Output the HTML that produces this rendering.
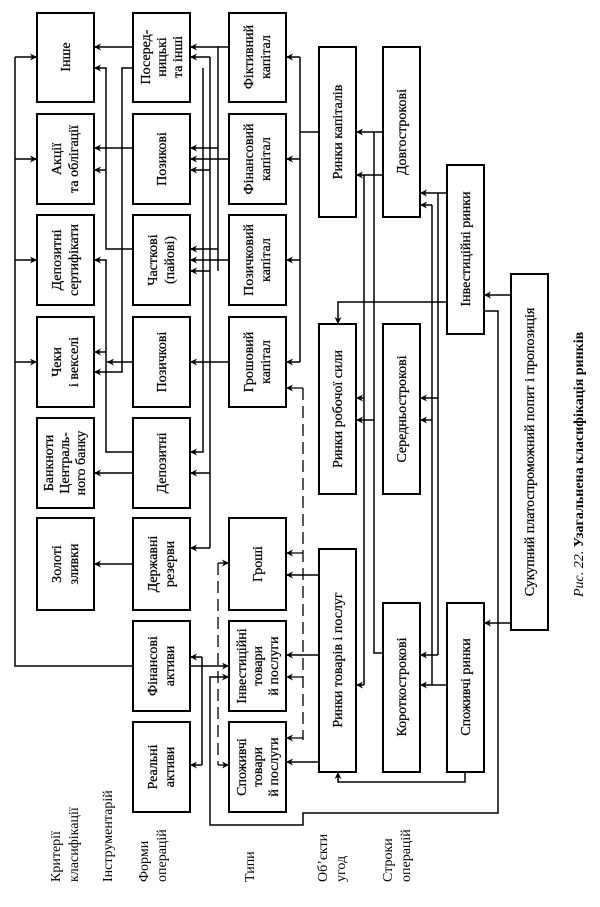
<!DOCTYPE html>
<html><head><meta charset="utf-8"><style>
html,body{margin:0;padding:0;background:#fff;}
svg{display:block;font-family:"Liberation Serif",serif;}
</style></head><body>
<svg width="600" height="907" viewBox="0 0 600 907" xmlns="http://www.w3.org/2000/svg">
<defs>
<marker id="a" viewBox="0 0 10 10" refX="10" refY="5" markerWidth="7" markerHeight="7" orient="auto" markerUnits="userSpaceOnUse"><path d="M0,0 L10,5 L0,10 L3,5 z" fill="#000"/></marker>
</defs>
<g fill="#fff" stroke="#000" stroke-width="2">
<rect x="37" y="13" width="57" height="89"/>
<rect x="37" y="114" width="57" height="90"/>
<rect x="37" y="215" width="57" height="90"/>
<rect x="37" y="317" width="57" height="90"/>
<rect x="37" y="418" width="57" height="90"/>
<rect x="37" y="518" width="57" height="92"/>
<rect x="133" y="13" width="57" height="89"/>
<rect x="133" y="114" width="57" height="90"/>
<rect x="133" y="215" width="57" height="90"/>
<rect x="133" y="317" width="57" height="90"/>
<rect x="133" y="418" width="57" height="90"/>
<rect x="133" y="518" width="57" height="92"/>
<rect x="133" y="621" width="57" height="90"/>
<rect x="133" y="722" width="57" height="90"/>
<rect x="229" y="13" width="57" height="89"/>
<rect x="229" y="114" width="57" height="90"/>
<rect x="229" y="215" width="57" height="90"/>
<rect x="229" y="317" width="57" height="90"/>
<rect x="229" y="518" width="57" height="92"/>
<rect x="229" y="621" width="57" height="90"/>
<rect x="229" y="722" width="57" height="90"/>
<rect x="319" y="47" width="37" height="170"/>
<rect x="319" y="324" width="37" height="170"/>
<rect x="319" y="549" width="37" height="223"/>
<rect x="383" y="47" width="37" height="170"/>
<rect x="383" y="324" width="37" height="170"/>
<rect x="383" y="603" width="37" height="169"/>
<rect x="447" y="165" width="37" height="169"/>
<rect x="447" y="603" width="37" height="169"/>
<rect x="511" y="274" width="37" height="356"/>
</g>
<g fill="none" stroke="#000" stroke-width="1.5">
<path d="M133,666 H15 V57"/>
<path d="M15,57 H37" marker-end="url(#a)"/>
<path d="M15,159 H37" marker-end="url(#a)"/>
<path d="M15,260 H37" marker-end="url(#a)"/>
<path d="M15,362 H37" marker-end="url(#a)"/>
<path d="M133,47 H94" marker-end="url(#a)"/>
<path d="M133,148 H94" marker-end="url(#a)"/>
<path d="M133,249 H106 V68 H94" marker-end="url(#a)"/>
<path d="M106,170 H94" marker-end="url(#a)"/>
<path d="M133,68 H122 V372 H94" marker-end="url(#a)"/>
<path d="M133,362 H107" marker-end="url(#a)"/>
<path d="M133,452 H106 V260 H94" marker-end="url(#a)"/>
<path d="M106,352 H94" marker-end="url(#a)"/>
<path d="M133,473 H94" marker-end="url(#a)"/>
<path d="M133,564 H94" marker-end="url(#a)"/>
<path d="M229,47 H218 V271"/>
<path d="M218,47 H190" marker-end="url(#a)"/>
<path d="M218,148 H190" marker-end="url(#a)"/>
<path d="M218,249 H190" marker-end="url(#a)"/>
<path d="M229,159 H190" marker-end="url(#a)"/>
<path d="M229,260 H190" marker-end="url(#a)"/>
<path d="M229,362 H190" marker-end="url(#a)"/>
<path d="M210,57 V548"/>
<path d="M210,57 H190" marker-end="url(#a)"/>
<path d="M210,170 H190" marker-end="url(#a)"/>
<path d="M210,271 H190" marker-end="url(#a)"/>
<path d="M210,473 H190" marker-end="url(#a)"/>
<path d="M210,548 H190" marker-end="url(#a)"/>
<path d="M203,68 V452 H190" marker-end="url(#a)"/>
<path d="M190,666 H229" marker-end="url(#a)"/>
<path d="M202,657 V765"/>
<path d="M202,657 H190" marker-end="url(#a)"/>
<path d="M202,765 H190" marker-end="url(#a)"/>
<path d="M319,132 H300 V57 M300,132 V362"/>
<path d="M300,57 H286" marker-end="url(#a)"/>
<path d="M300,159 H286" marker-end="url(#a)"/>
<path d="M300,260 H286" marker-end="url(#a)"/>
<path d="M300,362 H286" marker-end="url(#a)"/>
<path d="M319,575 H286" marker-end="url(#a)"/>
<path d="M319,655 H286" marker-end="url(#a)"/>
<path d="M319,762 H286" marker-end="url(#a)"/>
<path d="M383,132 H356" marker-end="url(#a)"/>
<path d="M383,175 H364 V685"/>
<path d="M364,175 H356" marker-end="url(#a)"/>
<path d="M364,685 H356" marker-end="url(#a)"/>
<path d="M364,398 H356" marker-end="url(#a)"/>
<path d="M374,132 V653 H383"/>
<path d="M374,420 H356" marker-end="url(#a)"/>
<path d="M447,193 H420" marker-end="url(#a)"/>
<path d="M432,205 V685"/>
<path d="M432,205 H420" marker-end="url(#a)"/>
<path d="M438,193 V655"/>
<path d="M438,398 H420" marker-end="url(#a)"/>
<path d="M432,420 H420" marker-end="url(#a)"/>
<path d="M438,655 H420" marker-end="url(#a)"/>
<path d="M447,685 H420" marker-end="url(#a)"/>
<path d="M447,302 H338 V324" marker-end="url(#a)"/>
<path d="M465,772 V782 H338 V772" marker-end="url(#a)"/>
<path d="M511,295 H484" marker-end="url(#a)"/>
<path d="M511,623 H484" marker-end="url(#a)"/>
<path d="M484,311 H498 V813 H303 V825 H210 V677 H229" marker-end="url(#a)"/>
</g>
<g fill="none" stroke="#000" stroke-width="1.3" stroke-dasharray="12,6">
<path d="M303,388 V740"/>
<path d="M218,563 V765"/>
</g>
<g fill="none" stroke="#000" stroke-width="1.3">
<path d="M303,388 H286" marker-end="url(#a)"/>
<path d="M303,553 H286" marker-end="url(#a)"/>
<path d="M303,677 H286" marker-end="url(#a)"/>
<path d="M303,738 H286" marker-end="url(#a)"/>
<path d="M218,563 H229" marker-end="url(#a)"/>
<path d="M218,765 H229" marker-end="url(#a)"/>
</g>
<g font-size="14" fill="#000" stroke="#000" stroke-width="0.25" text-anchor="middle">
<text transform="translate(70,57) rotate(-90)">Інше</text>
<text transform="translate(61,159) rotate(-90)"><tspan x="0">Акції</tspan><tspan x="0" dy="17">та облігації</tspan></text>
<text transform="translate(61,260) rotate(-90)"><tspan x="0">Депозитні</tspan><tspan x="0" dy="17">сертифікати</tspan></text>
<text transform="translate(61,362) rotate(-90)"><tspan x="0">Чеки</tspan><tspan x="0" dy="17">і векселі</tspan></text>
<text transform="translate(53,463) rotate(-90)"><tspan x="0">Банкноти</tspan><tspan x="0" dy="16">Централь-</tspan><tspan x="0" dy="16">ного банку</tspan></text>
<text transform="translate(61,564) rotate(-90)"><tspan x="0">Золоті</tspan><tspan x="0" dy="17">зливки</tspan></text>
<text transform="translate(150,57) rotate(-90)"><tspan x="0">Посеред-</tspan><tspan x="0" dy="16">ницькі</tspan><tspan x="0" dy="16">та інші</tspan></text>
<text transform="translate(166,159) rotate(-90)">Позикові</text>
<text transform="translate(157,260) rotate(-90)"><tspan x="0">Часткові</tspan><tspan x="0" dy="17">(пайові)</tspan></text>
<text transform="translate(166,362) rotate(-90)">Позичкові</text>
<text transform="translate(166,463) rotate(-90)">Депозитні</text>
<text transform="translate(157,564) rotate(-90)"><tspan x="0">Державні</tspan><tspan x="0" dy="17">резерви</tspan></text>
<text transform="translate(157,666) rotate(-90)"><tspan x="0">Фінансові</tspan><tspan x="0" dy="17">активи</tspan></text>
<text transform="translate(157,767) rotate(-90)"><tspan x="0">Реальні</tspan><tspan x="0" dy="17">активи</tspan></text>
<text transform="translate(253,57) rotate(-90)"><tspan x="0">Фіктивний</tspan><tspan x="0" dy="17">капітал</tspan></text>
<text transform="translate(253,159) rotate(-90)"><tspan x="0">Фінансовий</tspan><tspan x="0" dy="17">капітал</tspan></text>
<text transform="translate(253,260) rotate(-90)"><tspan x="0">Позичковий</tspan><tspan x="0" dy="17">капітал</tspan></text>
<text transform="translate(253,362) rotate(-90)"><tspan x="0">Грошовий</tspan><tspan x="0" dy="17">капітал</tspan></text>
<text transform="translate(262,564) rotate(-90)">Гроші</text>
<text transform="translate(246,666) rotate(-90)"><tspan x="0">Інвестиційні</tspan><tspan x="0" dy="16">товари</tspan><tspan x="0" dy="16">й послуги</tspan></text>
<text transform="translate(246,767) rotate(-90)"><tspan x="0">Споживчі</tspan><tspan x="0" dy="16">товари</tspan><tspan x="0" dy="16">й послуги</tspan></text>
<text transform="translate(342,132) rotate(-90)">Ринки капіталів</text>
<text transform="translate(342,409) rotate(-90)">Ринки робочої сили</text>
<text transform="translate(342,660) rotate(-90)">Ринки товарів і послуг</text>
<text transform="translate(406,132) rotate(-90)">Довгострокові</text>
<text transform="translate(406,409) rotate(-90)">Середньострокові</text>
<text transform="translate(406,687) rotate(-90)">Короткострокові</text>
<text transform="translate(470,249) rotate(-90)">Інвестиційні ринки</text>
<text transform="translate(470,687) rotate(-90)">Споживчі ринки</text>
<text transform="translate(534,452) rotate(-90)">Сукупний платоспроможний попит і пропозиція</text>
</g>
<g font-size="14" fill="#000" text-anchor="start">
<text transform="translate(60,882) rotate(-90)"><tspan x="0">Критерії</tspan><tspan x="0" dy="18">класифікації</tspan></text>
<text transform="translate(112,882) rotate(-90)">Інструментарій</text>
<text transform="translate(148,882) rotate(-90)"><tspan x="0">Форми</tspan><tspan x="0" dy="18">операцій</tspan></text>
<text transform="translate(254,882) rotate(-90)">Типи</text>
<text transform="translate(327,882) rotate(-90)"><tspan x="0">Об’єкти</tspan><tspan x="0" dy="18">угод</tspan></text>
<text transform="translate(392,882) rotate(-90)"><tspan x="0">Строки</tspan><tspan x="0" dy="18">операцій</tspan></text>
<text transform="translate(583,597) rotate(-90)"><tspan font-style="italic">Рис. 22.</tspan> <tspan font-weight="bold">Узагальнена класифікація ринків</tspan></text>
</g>
</svg>
</body></html>
